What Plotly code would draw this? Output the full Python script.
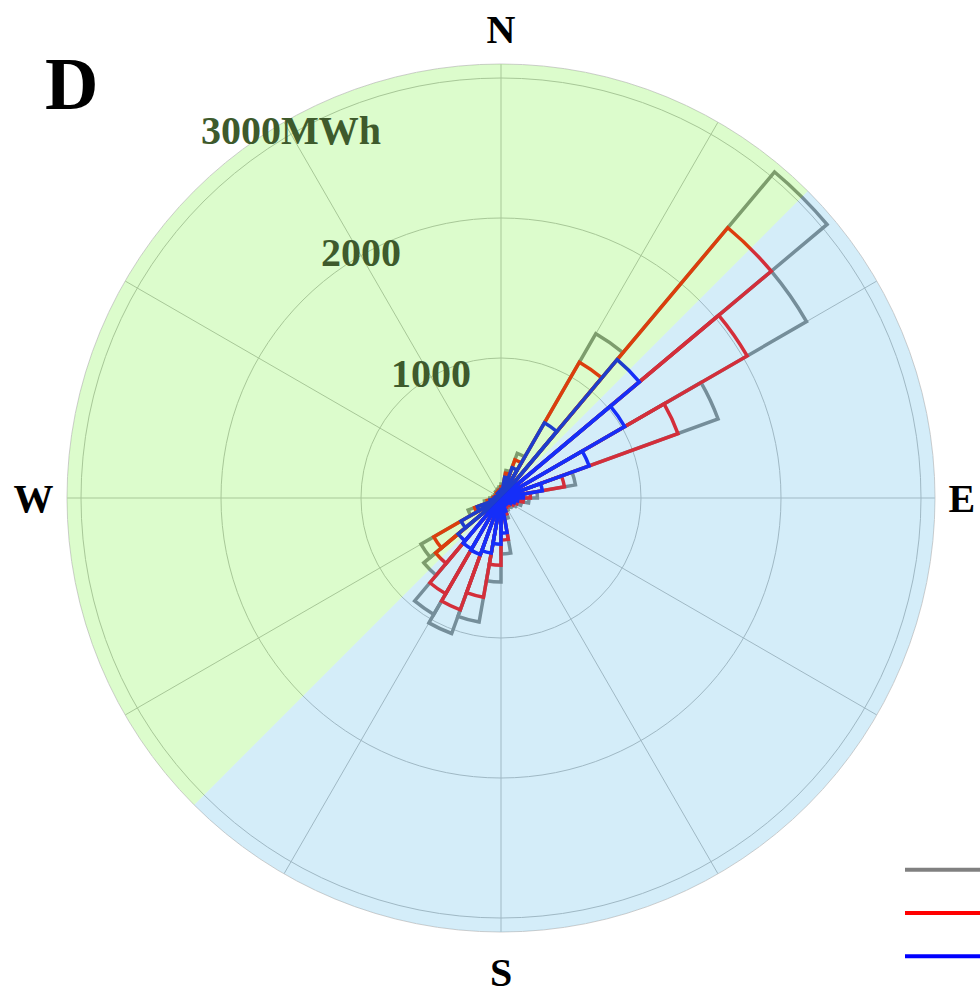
import plotly.graph_objects as go

# 10-degree direction bins (bin centres, degrees clockwise from North)
directions = [5 + 10 * i for i in range(36)]

# energy per direction bin (MWh)
gray_vals = [100, 200, 340, 1355, 3040, 2520, 1650, 540, 260,
             200, 150, 120, 100, 90, 90, 100, 150, 400,
             600, 900, 1030, 960, 720, 660, 250, 120, 80, 60,
             50, 50, 50, 50, 60, 60, 70, 80]
red_vals = [80, 180, 290, 1120, 2520, 2030, 1345, 460, 210,
            160, 120, 100, 80, 70, 70, 80, 120, 300,
            480, 720, 850, 790, 610, 555, 200, 100, 60, 50,
            40, 40, 40, 40, 50, 50, 55, 60]
blue_vals = [60, 150, 230, 620, 1290, 1020, 670, 300, 160,
             120, 100, 80, 60, 55, 55, 60, 100, 250,
             330, 400, 430, 420, 400, 330, 180, 80, 50, 40,
             30, 30, 30, 30, 40, 40, 45, 50]

series_names = ["Series 1", "Series 2", "Series 3"]
series_colors = ["rgb(128,128,128)", "rgb(255,0,0)", "rgb(0,0,255)"]

radial_max = 3100
radial_ticks = [1000, 2000, 3000]
radial_ticktext = ["1000", "2000", "3000MWh"]
radial_label_angle = 330
angle_ticks = [0, 30, 60, 90, 120, 150, 180, 210, 240, 270, 300, 330]
angle_ticktext = ["N", "", "", "E", "", "", "S", "", "", "W", "", ""]

# translucent background half-discs (sector centre, width), drawn over the bars
sector_centres = [315, 135]
sector_widths = [180, 180]
sector_colors = ["rgba(115,243,51,0.25)", "rgba(83,183,231,0.25)"]

fig = go.Figure()
for vals, name, col in zip([gray_vals, red_vals, blue_vals], series_names, series_colors):
    fig.add_trace(go.Barpolar(
        r=vals, theta=directions, width=[10] * len(directions),
        marker=dict(color="rgba(0,0,0,0)", line=dict(color=col, width=3.5)),
        name=name, showlegend=False, hoverinfo="skip"))

fig.add_trace(go.Barpolar(
    r=[radial_max] * 2, theta=sector_centres, width=sector_widths,
    marker=dict(color=sector_colors, line=dict(width=0)),
    showlegend=False, hoverinfo="skip"))

# radial scale labels, centred on the 330-degree spoke
fig.add_trace(go.Scatterpolar(
    r=radial_ticks, theta=[radial_label_angle] * len(radial_ticks),
    text=radial_ticktext, mode="text", textposition="middle center",
    textfont=dict(family="Liberation Serif", size=40, color="rgb(62,90,44)",
                  weight="bold"),
    cliponaxis=False, showlegend=False, hoverinfo="skip"))

for name, col in zip(series_names, series_colors):
    fig.add_trace(go.Scatterpolar(r=[None], theta=[None], mode="lines",
                                  line=dict(color=col, width=4), name=name,
                                  showlegend=True))

fig.update_layout(
    width=980, height=991,
    margin=dict(l=0, r=0, t=0, b=0, autoexpand=False),
    paper_bgcolor="white",
    font=dict(family="Liberation Serif"),
    polar=dict(
        domain=dict(x=[67 / 980, 935 / 980], y=[1 - 932 / 991, 1 - 64 / 991]),
        bgcolor="white",
        barmode="overlay",
        radialaxis=dict(range=[0, radial_max], tickvals=radial_ticks,
                        showticklabels=False,
                        showline=False, ticks="", layer="below traces",
                        gridcolor="rgb(185,185,185)", gridwidth=1),
        angularaxis=dict(rotation=90, direction="clockwise",
                         tickmode="array", tickvals=angle_ticks,
                         ticktext=angle_ticktext, ticks="outside", ticklen=5,
                         tickcolor="rgba(0,0,0,0)",
                         showline=True, linecolor="rgb(205,205,205)",
                         gridcolor="rgb(185,185,185)", layer="below traces",
                         tickfont=dict(family="Liberation Serif", size=40,
                                       color="black", weight="bold")),
    ),
    legend=dict(x=900 / 980, xanchor="left", y=1 - 843 / 991, yanchor="top",
                font=dict(size=31), itemwidth=110, bgcolor="rgba(0,0,0,0)"),
    annotations=[dict(text="<b>D</b>", x=71 / 980, y=1 - 84 / 991,
                      xref="paper", yref="paper", showarrow=False,
                      xanchor="center", yanchor="middle",
                      font=dict(family="Liberation Serif", size=74, color="black"))],
)

fig.write_html("out.html")
